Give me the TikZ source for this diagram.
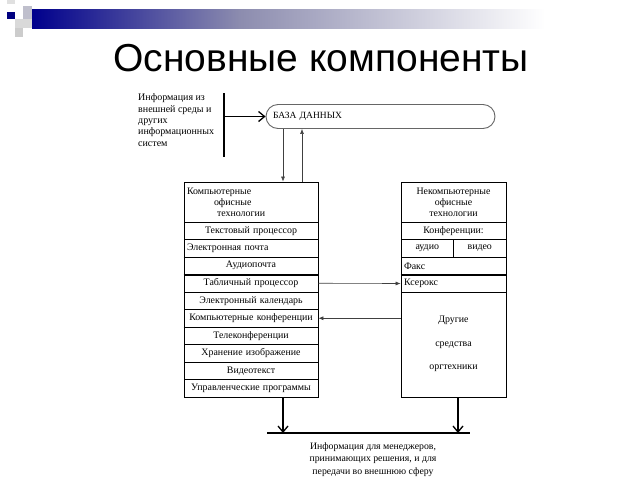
\documentclass[tikz,border=0pt]{standalone}
\usepackage{fontspec}
\setmainfont{Liberation Serif}
\newfontfamily\titlefont{Liberation Sans}
\usetikzlibrary{arrows.meta}

\begin{document}
\begin{tikzpicture}[x=1pt,y=-1pt,
    row/.style={draw,line width=0.8pt,minimum height=17.5pt,inner xsep=3pt,inner ysep=0pt,
      text width=128pt,align=center,font=\fontsize{9.9}{11}\selectfont},
    narrow/.style={row,text width=99pt},
    half/.style={row,text width=46.5pt},
    flow/.style={-{Latex[length=5pt,width=4pt]},line width=0.6pt,black!75},
    feed/.style={-{Straight Barb[length=6pt,width=10pt]},line width=1.3pt}]
    \useasboundingbox (0,0) rectangle (640,480);
    \fill [black!12] (7,0) rectangle (15,4);
    \fill [blue!20!black!25] (23,6) rectangle (32,19);
    \fill [black!15] (15,19) rectangle (32,28);
    \fill [black!20] (15,28) rectangle (23,37);
    \fill [blue!50!black] (7,12) rectangle (15,19);
    \shade [left color=blue!55!black, right color=blue!30!black!45] (32,9) rectangle (240,28);
    \shade [left color=blue!30!black!45, right color=white] (240,9) rectangle (545,28);
    \path (321,58) node (title) {\titlefont\fontsize{39}{44}\selectfont Основные компоненты};

    \path (138,120) node [right,align=left,inner sep=0,font=\fontsize{10}{11.3}\selectfont] (source)
      {Информация из\\внешней среды и\\других\\информационных\\систем};
    \coordinate (bar) at (224,93);
    \draw [line width=1.3pt] (bar) -- (224,157);
    \path (380.5,116.5) node [draw,black!60,line width=0.9pt,rounded corners=12pt,minimum width=229pt,
      minimum height=24pt,text width=215pt,align=left,text=black,font=\fontsize{9.5}{11}\selectfont] (db) {БАЗА ДАННЫХ};
    \draw [feed] (bar |- db.west) -- (db.west);

    \path (251,202) node [row,minimum height=40pt,align=left] (lhead)
      {Компьютерные\\\hspace*{27pt}офисные\\\hspace*{30pt}технологии};
    \path (251,230.75) node [row] (text) {Текстовый процессор};
    \path (251,248.25) node [row,align=left] (mail) {Электронная почта};
    \path (251,265.75) node [row] (audio) {Аудиопочта};
    \path (251,283.25) node [row] (sheet) {Табличный процессор};
    \path (251,300.75) node [row] (calendar) {Электронный календарь};
    \path (251,318.25) node [row] (conf) {Компьютерные конференции};
    \path (251,335.75) node [row] (tele) {Телеконференции};
    \path (251,353.25) node [row] (image) {Хранение изображение};
    \path (251,370.75) node [row] (video) {Видеотекст};
    \path (251,388.25) node [row] (control) {Управленческие программы};

    \path (453.5,202) node [narrow,minimum height=40pt] (rhead)
      {Некомпьютерные\\офисные\\технологии};
    \path (453.5,231) node [narrow] (meeting) {Конференции:};
    \path (427.25,248.5) node [half] (phone) {аудио};
    \path (479.75,248.5) node [half] (screen) {видео};
    \path (453.5,266) node [narrow,align=left] (fax) {Факс};
    \path (453.5,283.5) node [narrow,align=left] (copier) {Ксерокс};
    \path (453.5,344.5) node [narrow,minimum height=105pt,font=\fontsize{9.9}{23.5}\selectfont] (other)
      {\\[-18pt]Другие\\средства\\оргтехники};

    \draw [line width=1.6pt] (mail.south west) -- (mail.south east);
    \draw [line width=1.6pt] (audio.south west) -- (audio.south east);
    \draw [line width=1.6pt] (conf.south west) -- (conf.south east);
    \draw [line width=1.6pt] (fax.south west) -- (fax.south east);

    \coordinate (down) at (283,0);
    \coordinate (up) at (302,0);
    \draw [flow] (down |- db.south) -- (down |- lhead.north);
    \draw [flow] (up |- lhead.north) -- (up |- db.south);
    \draw [flow] (sheet.east) -- (copier.west);
    \draw [flow] (other.west |- conf.east) -- (conf.east);

    \coordinate (out) at (267,433);
    \draw [line width=1.3pt] (out) -- (470,433);
    \coordinate (right out) at (458,0);
    \draw [feed] (down |- control.south) -- (down |- out);
    \draw [feed] (right out |- other.south) -- (right out |- out);
    \path (373,459.5) node [align=center,font=\fontsize{9.8}{12.5}\selectfont] (target)
      {Информация для менеджеров,\\принимающих решения, и для\\передачи во внешнюю сферу};
\end{tikzpicture}
\end{document}
